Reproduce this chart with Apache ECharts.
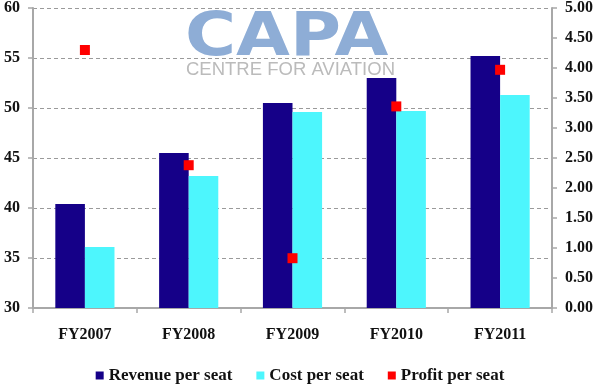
<!DOCTYPE html>
<html>
<head>
<meta charset="utf-8">
<script src="https://cdn.jsdelivr.net/npm/echarts@6/dist/echarts.min.js"></script>
<style>html,body{margin:0;padding:0;background:#fff}#c{width:600px;height:388px}</style>
</head>
<body>
<div id="c"></div>
<script>
const categories = ['FY2007', 'FY2008', 'FY2009', 'FY2010', 'FY2011'];
const revenuePerSeat = [40.4, 45.5, 50.5, 53.0, 55.2];
const costPerSeat = [36.1, 43.2, 49.6, 49.7, 51.3];
const profitPerSeat = [4.30, 2.38, 0.83, 3.36, 3.97];

const serif = '"Liberation Serif", "Times New Roman", serif';
const chart = echarts.init(document.getElementById('c'), null, { renderer: 'canvas' });
chart.setOption({
  animation: false,
  backgroundColor: '#ffffff',
  grid: { left: 33, right: 48, top: 8, bottom: 80, containLabel: false },
  graphic: [
    {
      type: 'text', left: 185, top: 9, z: 0, scaleX: 1.16,
      style: { text: 'CAPA', font: 'bold 60px "DejaVu Sans", sans-serif', fill: '#8eadd6' }
    },
    {
      type: 'text', left: 186, top: 60, z: 0,
      style: { text: 'CENTRE FOR AVIATION', font: '18.5px "Liberation Sans", Arial, sans-serif', fill: '#bbbbbb' }
    }
  ],
  legend: {
    left: 'center', top: 362,
    icon: 'rect', itemWidth: 8, itemHeight: 8, itemGap: 24,
    textStyle: { fontFamily: serif, fontWeight: 'bold', fontSize: 17, color: '#111' },
    data: ['Revenue per seat', 'Cost per seat', 'Profit per seat']
  },
  xAxis: {
    type: 'category', data: categories, boundaryGap: true,
    axisLine: { lineStyle: { color: '#a8a8a8', width: 2 } },
    axisTick: { show: true, length: 5, lineStyle: { color: '#a8a8a8', width: 1.5 } },
    axisLabel: { margin: 19, fontFamily: serif, fontWeight: 'bold', fontSize: 16, color: '#111' }
  },
  yAxis: [
    {
      type: 'value', min: 30, max: 60, interval: 5, position: 'left',
      axisLine: { show: true, lineStyle: { color: '#a8a8a8', width: 2 } },
      axisTick: { show: true, length: 5, lineStyle: { color: '#a8a8a8', width: 1.5 } },
      axisLabel: { margin: 13, fontFamily: serif, fontWeight: 'bold', fontSize: 16, color: '#111' },
      splitLine: { show: true, lineStyle: { color: '#9a9a9a', type: [4, 3], width: 1 } }
    },
    {
      type: 'value', min: 0, max: 5, interval: 0.5, position: 'right',
      axisLine: { show: true, lineStyle: { color: '#a8a8a8', width: 2 } },
      axisTick: { show: true, length: 5, lineStyle: { color: '#a8a8a8', width: 1.5 } },
      axisLabel: { margin: 13, fontFamily: serif, fontWeight: 'bold', fontSize: 16, color: '#111',
        formatter: v => v.toFixed(2) },
      splitLine: { show: false }
    }
  ],
  series: [
    {
      name: 'Revenue per seat', type: 'bar', data: revenuePerSeat, yAxisIndex: 0,
      barGap: '0%', barCategoryGap: '43%', z: 3,
      itemStyle: { color: '#150088' }
    },
    {
      name: 'Cost per seat', type: 'bar', data: costPerSeat, yAxisIndex: 0,
      barGap: '0%', barCategoryGap: '43%', z: 3,
      itemStyle: { color: '#4df6fd' }
    },
    {
      name: 'Profit per seat', type: 'scatter', data: profitPerSeat, yAxisIndex: 1,
      symbol: 'rect', symbolSize: 10, z: 5,
      itemStyle: { color: '#ff0000', opacity: 1 }
    }
  ]
});
</script>
</body>
</html>
